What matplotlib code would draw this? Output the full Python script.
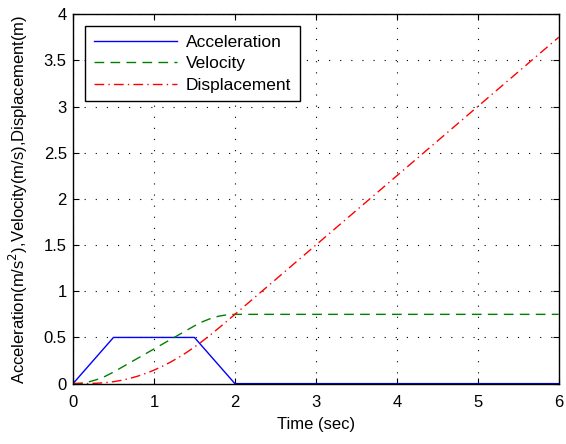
import numpy as np
import matplotlib
matplotlib.use("Agg")
import matplotlib.pyplot as plt

plt.rcParams['font.family'] = ['Liberation Sans', 'DejaVu Sans']

# acceleration profile (trapezoid)
t_acc = [0, 0.5, 1.5, 2.0, 6.0]
acc = [0, 0.5, 0.5, 0, 0]

# velocity and displacement read at 0.1 s steps up to 2 s, then 6 s
t_vd = [0.0, 0.1, 0.2, 0.3, 0.4, 0.5, 0.6, 0.7, 0.8, 0.9, 1.0,
        1.1, 1.2, 1.3, 1.4, 1.5, 1.6, 1.7, 1.8, 1.9, 2.0, 6.0]
vel = [0.0, 0.005, 0.02, 0.045, 0.08, 0.125, 0.175, 0.225, 0.275, 0.325, 0.375,
       0.425, 0.475, 0.525, 0.575, 0.625, 0.67, 0.705, 0.73, 0.745, 0.75, 0.75]
disp = [0.0, 0.0002, 0.0013, 0.0045, 0.0107, 0.0208, 0.0358, 0.0558, 0.0808, 0.1108, 0.1458,
        0.1858, 0.2308, 0.2808, 0.3358, 0.3958, 0.4607, 0.5295, 0.6013, 0.6752, 0.75, 3.75]

fig = plt.figure(figsize=(5.66, 4.44), dpi=100)
ax = fig.add_axes([0.129, 0.136, 0.858, 0.832])

ax.plot(t_acc, acc, color='blue', lw=1.0, label='Acceleration')
ax.plot(t_vd, vel, color='green', lw=1.0, ls=(0, (7, 4.5)), label='Velocity')
ax.plot(t_vd, disp, color='red', lw=1.0, ls=(0, (7, 3, 1, 3)), label='Displacement')

ax.set_xlim(0, 6)
ax.set_ylim(0, 4)
ax.set_xticks(range(0, 7))
ax.set_yticks([0, 0.5, 1, 1.5, 2, 2.5, 3, 3.5, 4])
ax.set_yticklabels(['0', '0.5', '1', '1.5', '2', '2.5', '3', '3.5', '4'])
ax.grid(True, color='black', ls=(0, (1, 9)), lw=0.8)
ax.tick_params(direction='in', top=True, right=True, labelsize=12, length=4)
ax.tick_params(axis='x', pad=8)
ax.tick_params(axis='y', pad=4.5)
for s in ax.spines.values():
    s.set_linewidth(1.0)

ax.set_xlabel('Time (sec)', fontsize=12, labelpad=5.5)
ax.set_ylabel('Acceleration(m/s$^2$),Velocity(m/s),Displacement(m)', fontsize=12, labelpad=10)

leg = ax.legend(loc='upper left', fontsize=12.5, handlelength=4.8, fancybox=False,
                edgecolor='black', framealpha=1, borderpad=0.5, labelspacing=0.35,
                borderaxespad=0.7, handletextpad=0.5)
leg.get_frame().set_linewidth(1.0)

plt.savefig('out.png', dpi=100)
